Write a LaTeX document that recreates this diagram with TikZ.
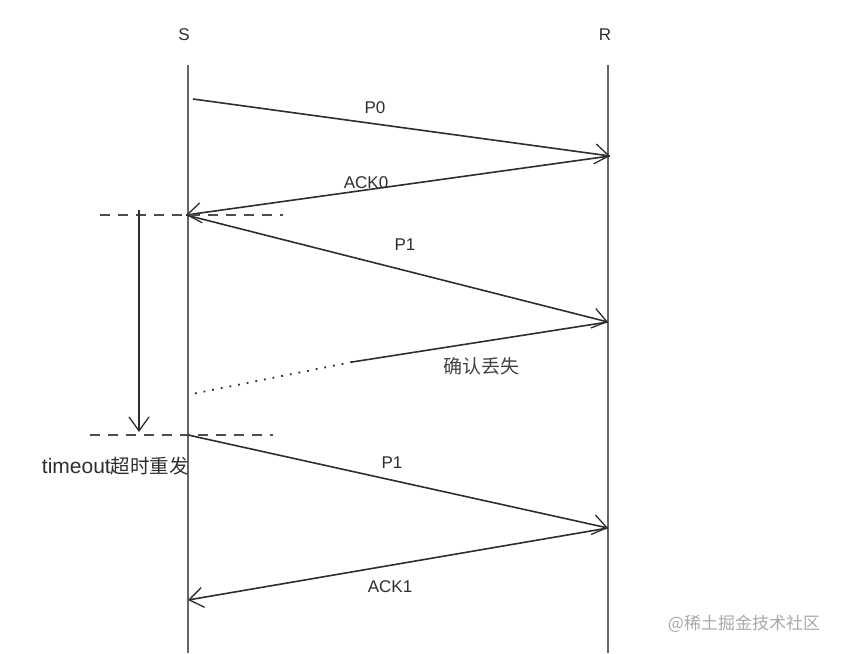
\documentclass[tikz,border=0pt]{standalone}
\usepackage{fontspec}
\setmainfont{Liberation Sans}
\newfontfamily\cjk{Noto Sans CJK SC}
\usetikzlibrary{arrows.meta}
\definecolor{ink}{HTML}{2E2E2E}
\definecolor{life}{HTML}{666666}
\definecolor{wm}{HTML}{A8A8A8}
\begin{document}
\begin{tikzpicture}[x=1pt,y=-1pt,
  lifeline/.style={draw=life,line width=1.8pt},
  msg/.style={draw=ink,line width=1.6pt,-{Straight Barb[length=14pt,width=20pt,line width=1.3pt]}},
  guide/.style={draw=ink!85,line width=1.5pt,dash pattern=on 10pt off 8pt},
  lbl/.style={font=\fontsize{17}{19}\selectfont,text=ink,inner sep=1pt},
  clbl/.style={font=\cjk\fontsize{19}{21}\selectfont,text=ink!90,inner sep=1pt}]
\useasboundingbox (0,0) rectangle (842,653);
% lifelines
\coordinate (Stop) at (188,65); \coordinate (Sbot) at (188,653);
\coordinate (Rtop) at (608,65); \coordinate (Rbot) at (608,653);
\draw[lifeline] (Stop) -- (Sbot);
\draw[lifeline] (Rtop) -- (Rbot);
\node[lbl] (S) at (184,35) {S};
\node[lbl] (R) at (605,35) {R};
% event points
\coordinate (p0s) at (193,99);
\coordinate (p0r) at (610,156);
\coordinate (a0s) at (186,215);
\coordinate (p1r) at (608,322);
\coordinate (lostmid) at (352,362);
\coordinate (lostend) at (192,394);
\coordinate (t1s) at (188,435);
\coordinate (p2r) at (608,528);
\coordinate (a1s) at (188,600);
% messages
\draw[msg] (p0s) -- (p0r);
\node[lbl] (lP0) at (375,108) {P0};
\draw[msg] (p0r) -- (a0s);
\node[lbl] (lA0) at (366,183) {ACK0};
\draw[msg] (a0s) -- (p1r);
\node[lbl] (lP1) at (405,245) {P1};
\draw[ink,line width=1.6pt] (p1r) -- (lostmid);
\draw[ink,line width=1.8pt,dash pattern=on 1.8pt off 7pt] (lostmid) -- (lostend);
\node[clbl] (lost) at (481,366) {确认丢失};
% timeout
\coordinate (d1a) at (100,215); \coordinate (d1b) at (283,215);
\coordinate (d2a) at (90,435); \coordinate (d2b) at (273,435);
\draw[guide] (d1a) -- (d1b);
\draw[guide] (d2a) -- (d2b);
\coordinate (vt) at (139,210); \coordinate (vb) at (139,432);
\draw[msg] (vt) -- (vb);
\node[anchor=east,inner sep=0pt,font=\fontsize{21}{23}\selectfont,text=ink] (to) at (189,466) {timeout{\cjk\fontsize{19.5}{23}\selectfont 超时重发}};
\draw[msg] (t1s) -- (p2r);
\node[lbl] (lP2) at (392,463) {P1};
\draw[msg] (p2r) -- (a1s);
\node[lbl] (lA1) at (390,587) {ACK1};
\node[font=\cjk\fontsize{17}{19}\selectfont,text=wm] (wm) at (744,624) {@稀土掘金技术社区};
\end{tikzpicture}
\end{document}
